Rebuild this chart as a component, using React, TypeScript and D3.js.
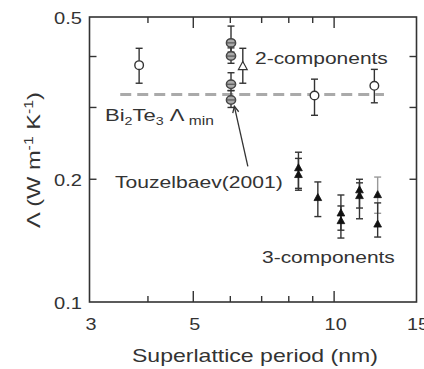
import React, { useRef, useLayoutEffect, useState } from "react";
import * as d3 from "d3";

// ---- data ----
const twoCompX = [3.83, 9.08, 12.19];
const twoCompY = [0.381, 0.321, 0.339];
const twoCompLo = [0.344, 0.287, 0.308];
const twoCompHi = [0.419, 0.352, 0.372];

const touzX = [6.02, 6.02, 6.02, 6.02];
const touzY = [0.432, 0.401, 0.342, 0.313];
const touzLo = [0.41, 0.385, 0.33, 0.3];
const touzHi = [0.475, 0.42, 0.365, 0.33];

const openTriX = [6.38];
const openTriY = [0.378];
const openTriLo = [0.344];
const openTriHi = [0.419];

const threeX = [8.39, 8.39, 9.23, 10.34, 10.34, 11.33, 11.33, 12.39, 12.39];
const threeY = [0.213, 0.205, 0.18, 0.165, 0.158, 0.188, 0.182, 0.183, 0.155];
const threeLo = [0.19, 0.188, 0.162, 0.15, 0.1435, 0.17, 0.16, 0.165, 0.1443];
const threeHi = [0.233, 0.225, 0.197, 0.183, 0.172, 0.2, 0.196, 0.2025, 0.175];
const threeGrayBar = [false, false, false, false, false, false, false, true, false];

const bi2te3Min = 0.323;
const dashX = [3.49, 12.78];

const xTickLabels = [3, 5, 10, 15];
const xMinorTicks = [4, 6, 7, 8, 9];
const xMajorTicks = [5, 10];
const yTickLabels = [0.5, 0.2, 0.1];
const yTicks = [0.2, 0.3, 0.4];

const arrowFrom = [6.54, 0.215];
const arrowTo = [6.12, 0.302];

const W = 424;
const H = 369;
const L = 89.5, R = 416.5, T = 17, B = 302;

const x = d3.scaleLog().domain([3, 15]).range([L, R]);
const y = d3.scaleLog().domain([0.1, 0.5]).range([B, T]);

const INK = "#333";
const FONT = "'Liberation Sans', Arial, Helvetica, sans-serif";

function FitText(props: {
  x: number; y: number; width?: number; sx?: number; anchor?: string;
  rotate?: number; fontSize: number; children: any; fill?: string;
}) {
  const ref = useRef<SVGTextElement>(null);
  const [s, setS] = useState(props.sx ?? 1);
  useLayoutEffect(() => {
    if (props.width && ref.current) {
      const w = ref.current.getBBox().width;
      if (w > 0) setS(props.width / w);
    }
  }, []);
  const rot = props.rotate ? ` rotate(${props.rotate})` : "";
  return (
    <g transform={`translate(${props.x},${props.y})${rot} scale(${s},1)`}>
      <text ref={ref} x={0} y={0} textAnchor={props.anchor ?? "start"}
        fontSize={props.fontSize} fontFamily={FONT} fill={props.fill ?? INK}>
        {props.children}
      </text>
    </g>
  );
}

function ErrBar({ xv, lo, hi, color = INK }: { xv: number; lo: number; hi: number; color?: string }) {
  const px = x(xv);
  const c = 3.5;
  return (
    <g stroke={color} strokeWidth={1.4}>
      <line x1={px} x2={px} y1={y(lo)} y2={y(hi)} />
      <line x1={px - c} x2={px + c} y1={y(lo)} y2={y(lo)} />
      <line x1={px - c} x2={px + c} y1={y(hi)} y2={y(hi)} />
    </g>
  );
}

const triPath = (s: number) => `M0,${-s * 0.62}L${s * 0.55},${s * 0.38}L${-s * 0.55},${s * 0.38}Z`;

export default function App() {
  const arrowAngle = Math.atan2(y(arrowTo[1]) - y(arrowFrom[1]), x(arrowTo[0]) - x(arrowFrom[0]));
  const tipX = x(arrowTo[0]), tipY = y(arrowTo[1]);
  const ah = 7, aw = 0.45;
  const a1x = tipX - ah * Math.cos(arrowAngle - aw), a1y = tipY - ah * Math.sin(arrowAngle - aw);
  const a2x = tipX - ah * Math.cos(arrowAngle + aw), a2y = tipY - ah * Math.sin(arrowAngle + aw);

  return (
    <svg width={W} height={H} style={{ position: "absolute", left: 0, top: 0, background: "#fff" }}>
      <rect x={0} y={0} width={W} height={H} fill="#fff" />
      {/* dashed Bi2Te3 min line */}
      <line x1={x(dashX[0])} x2={x(dashX[1])} y1={y(bi2te3Min)} y2={y(bi2te3Min)}
        stroke="#aaa" strokeWidth={3} strokeDasharray="11,6" />

      {/* frame */}
      <rect x={L} y={T} width={R - L} height={B - T} fill="none" stroke={INK} strokeWidth={1.6} />
      {/* x ticks */}
      {xMinorTicks.map((t) => (
        <g key={"xm" + t} stroke={INK} strokeWidth={1.4}>
          <line x1={x(t)} x2={x(t)} y1={B} y2={B - 6} />
          <line x1={x(t)} x2={x(t)} y1={T} y2={T + 6} />
        </g>
      ))}
      {xMajorTicks.map((t) => (
        <g key={"xM" + t} stroke={INK} strokeWidth={1.4}>
          <line x1={x(t)} x2={x(t)} y1={B} y2={B - 11} />
          <line x1={x(t)} x2={x(t)} y1={T} y2={T + 11} />
        </g>
      ))}
      {yTicks.map((t) => (
        <g key={"y" + t} stroke={INK} strokeWidth={1.4}>
          <line x1={L} x2={L + 7} y1={y(t)} y2={y(t)} />
          <line x1={R} x2={R - 7} y1={y(t)} y2={y(t)} />
        </g>
      ))}
      {/* tick labels */}
      {xTickLabels.map((t) => (
        <FitText key={"xl" + t} x={x(t) + 1.5} y={330} anchor="middle" fontSize={16.5} sx={1.2}>
          {String(t)}
        </FitText>
      ))}
      {yTickLabels.map((t) => (
        <FitText key={"yl" + t} x={82} y={y(t) + 7} anchor="end" fontSize={16.5} sx={1.22}>
          {String(t)}
        </FitText>
      ))}

      {/* axis titles */}
      <FitText x={132} y={362} width={246} fontSize={18}>Superlattice period (nm)</FitText>
      <FitText x={40} y={160} width={136} rotate={-90} anchor="middle" fontSize={18}>
        <tspan>Λ (W m</tspan>
        <tspan fontSize={12} dy={-7}>-1</tspan>
        <tspan dy={7}> K</tspan>
        <tspan fontSize={12} dy={-7}>-1</tspan>
        <tspan dy={7}>)</tspan>
      </FitText>

      {/* annotations */}
      <FitText x={105} y={121} width={109} fontSize={17}>
        <tspan>Bi</tspan>
        <tspan fontSize={11} dy={4}>2</tspan>
        <tspan dy={-4}>Te</tspan>
        <tspan fontSize={11} dy={4}>3</tspan>
        <tspan dy={-4}> Λ</tspan>
        <tspan fontSize={12} dy={4}> min</tspan>
      </FitText>
      <FitText x={255} y={64} width={133} fontSize={17}>2-components</FitText>
      <FitText x={115} y={188} width={168} fontSize={17}>Touzelbaev(2001)</FitText>
      <FitText x={262} y={263} width={133} fontSize={17}>3-components</FitText>

      {/* arrow */}
      <g stroke={INK} strokeWidth={1.3} fill="none">
        <line x1={x(arrowFrom[0])} y1={y(arrowFrom[1])} x2={tipX} y2={tipY} />
        <polyline points={`${a1x},${a1y} ${tipX},${tipY} ${a2x},${a2y}`} />
      </g>

      {/* Touzelbaev gray circles */}
      {touzX.map((xv, i) => (
        <ErrBar key={"te" + i} xv={xv} lo={touzLo[i]} hi={touzHi[i]} />
      ))}
      {touzX.map((xv, i) => (
        <g key={"tc" + i}>
          <ellipse cx={x(xv)} cy={y(touzY[i])} rx={4.6} ry={4.2} fill="#aaa" stroke="#444" strokeWidth={1.5} />
          <line x1={x(xv) - 4.6} x2={x(xv) + 4.6} y1={y(touzY[i])} y2={y(touzY[i])} stroke="#555" strokeWidth={1.2} />
        </g>
      ))}

      {/* open triangle */}
      {openTriX.map((xv, i) => (
        <g key={"ot" + i}>
          <ErrBar xv={xv} lo={openTriLo[i]} hi={openTriHi[i]} />
          <path d={triPath(8)} transform={`translate(${x(xv)},${y(openTriY[i])})`} fill="#fff" stroke={INK} strokeWidth={1.2} />
        </g>
      ))}

      {/* 2-components open circles */}
      {twoCompX.map((xv, i) => (
        <g key={"oc" + i}>
          <ErrBar xv={xv} lo={twoCompLo[i]} hi={twoCompHi[i]} />
          <circle cx={x(xv)} cy={y(twoCompY[i])} r={4.3} fill="#fff" stroke={INK} strokeWidth={1.4} />
        </g>
      ))}

      {/* 3-components filled triangles */}
      {threeX.map((xv, i) => (
        <ErrBar key={"fe" + i} xv={xv} lo={threeLo[i]} hi={threeHi[i]} color={threeGrayBar[i] ? "#999" : INK} />
      ))}
      {threeX.map((xv, i) => (
        <path key={"ft" + i} d={triPath(7)} transform={`translate(${x(xv)},${y(threeY[i])})`} fill="#111" stroke="#111" strokeWidth={0.8} />
      ))}
    </svg>
  );
}
